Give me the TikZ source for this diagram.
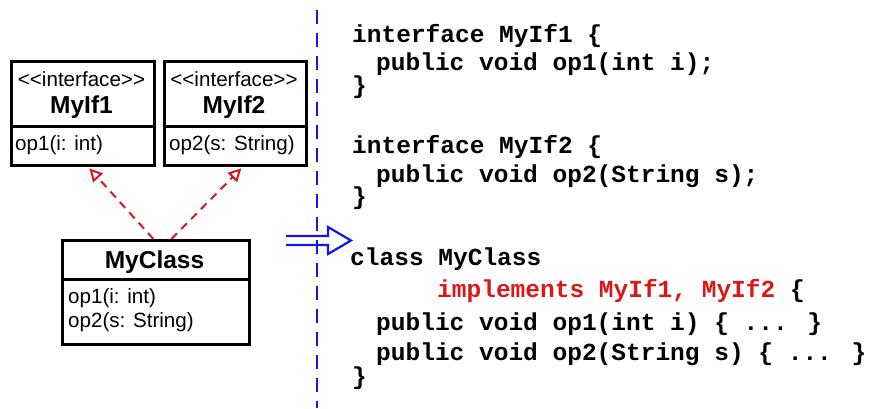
\documentclass[tikz,border=0pt]{standalone}
\usepackage{fontspec}
\setmainfont{Liberation Sans}
\newfontfamily\codefont{Liberation Mono}
\usetikzlibrary{arrows.meta}
\definecolor{depred}{RGB}{215,25,30}
\definecolor{codered}{RGB}{215,25,25}
\definecolor{sepblue}{RGB}{20,20,235}
\begin{document}
\begin{tikzpicture}[x=1pt,y=-1pt,
  part/.style={draw=black,line width=2.8pt,anchor=north west,inner sep=0pt},
  reg/.style={inner sep=0pt,font=\fontsize{20.6}{24}\selectfont},
  bold/.style={inner sep=0pt,anchor=base,font=\fontsize{24.5}{28}\selectfont\bfseries},
  code/.style={inner sep=0pt,anchor=base west,font=\fontsize{24.5}{28}\selectfont\codefont\bfseries},
  dep/.style={draw=depred,line width=2pt,dash pattern=on 8pt off 6pt,-{Triangle[open,length=13pt,width=13pt,line width=2pt]}},
  sep/.style={draw=sepblue,line width=2.5pt,dash pattern=on 14pt off 9pt}
]
\useasboundingbox (0,0) rectangle (884,408);

% interface boxes
\node[part,minimum width=143pt,minimum height=65pt] (if1top) at (10,60) {};
\node[part,minimum width=143pt,minimum height=39pt] (if1bot) at (10,125) {};
\node[part,minimum width=142pt,minimum height=65pt] (if2top) at (163,60) {};
\node[part,minimum width=142pt,minimum height=39pt] (if2bot) at (163,125) {};
% class box
\node[part,minimum width=187pt,minimum height=39pt] (mctop) at (61,239) {};
\node[part,minimum width=187pt,minimum height=65pt] (mcbot) at (61,278) {};

% texts in boxes
\node[reg,anchor=base] (if1st) at (81.5,86) {<\kern0pt<interface>\kern0pt>};
\node[bold] (if1nm) at (81.5,113) {MyIf1};
\node[reg,anchor=base west] (if1op) at (15,150) {op1(i: int)};
\node[reg,anchor=base] (if2st) at (234,86) {<\kern0pt<interface>\kern0pt>};
\node[bold] (if2nm) at (234,113) {MyIf2};
\node[reg,anchor=base west] (if2op) at (169,150) {op2(s: String)};
\node[bold] (mcnm) at (154.5,268) {MyClass};
\node[reg,anchor=base west] (mcop1) at (68,303) {op1(i: int)};
\node[reg,anchor=base west] (mcop2) at (68,327) {op2(s: String)};

% realization arrows
\draw[dep] ([xshift=-2.5pt]mctop.north) -- ([xshift=6.5pt,yshift=-1.5pt]if1bot.south);
\draw[dep] ([xshift=15.5pt]mctop.north) -- ([xshift=6pt,yshift=-1.5pt]if2bot.south);

% separator
\coordinate (vtop) at (317,10);
\coordinate (vbot) at (317,408);
\draw[sep] (vtop) -- (vbot);

% implies arrow
\draw[sepblue,line width=2.2pt,line join=miter]
  (286,236) -- (328,236) -- (328,227) -- (351,240.5) -- (328,254) -- (328,245) -- (286,245);

% code
\node[code] (c1) at (352,42) {interface MyIf1 \{};
\node[code] (c2) at (376,70) {public void op1(int i);};
\node[code] (c3) at (352,93) {\}};
\node[code] (c4) at (352,153) {interface MyIf2 \{};
\node[code] (c5) at (376,182) {public void op2(String s);};
\node[code] (c6) at (352,204) {\}};
\node[code] (c7) at (350,265) {class MyClass};
\node[code] (c8) at (437,297) {\textcolor{codered}{implements MyIf1, MyIf2} \{};
\node[code] (c9) at (376,330) {public void op1(int i) \{ ... \}};
\node[code] (c10) at (376,360) {public void op2(String s) \{ ... \}};
\node[code] (c11) at (352,384) {\}};
\end{tikzpicture}
\end{document}
